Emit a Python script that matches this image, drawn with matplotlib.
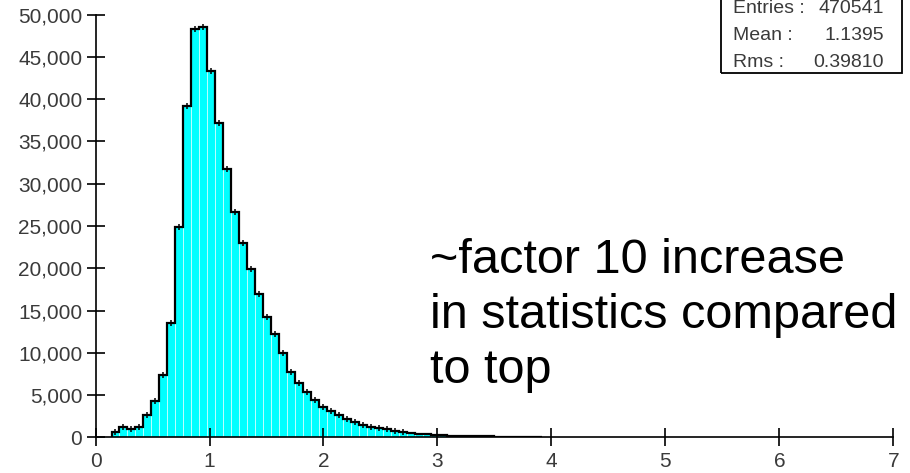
import matplotlib
matplotlib.use("Agg")
import matplotlib.pyplot as plt
import numpy as np
from matplotlib.patches import Rectangle
from matplotlib.ticker import FuncFormatter

# histogram: 0.07 wide bins, first filled bin starts at 0.14
first_edge = 0.14
bin_width = 0.07
counts = [680, 1200, 980, 1220, 2620, 4300, 7370, 13580,
          24920, 39200, 48310, 48580, 43340, 37150, 31710, 26690, 22950,
          19900, 16990, 14270, 12190, 10030, 7760, 6430, 5300,
          4370, 3620, 3130, 2580, 2130, 1850, 1510, 1220, 1100, 960,
          700, 590, 480, 390, 330, 280,
          230, 200, 170, 150, 130, 110, 100, 90, 80, 70, 60, 50, 40]

stat_labels = ["Entries :", "Mean :", "Rms :"]
stat_values = ["470541", "1.1395", "0.39810"]
note_lines = ["~factor 10 increase", "in statistics compared", "to top"]

plt.rcParams["font.family"] = ["Liberation Sans", "DejaVu Sans"]

counts = np.array(counts)
edges = first_edge + bin_width * np.arange(len(counts) + 1)
centers = 0.5 * (edges[:-1] + edges[1:])

fig = plt.figure(figsize=(9.10, 4.73), dpi=100)
ax = fig.add_axes([0.105, 0.0755, 0.8767, 0.8935])

ax.bar(edges[:-1], counts, width=bin_width, align="edge",
       color="#00ffff", edgecolor="#c8ffff", linewidth=0.6, zorder=1)
ax.stairs(counts, edges, color="black", linewidth=1.6, zorder=2)
big = counts >= 500
ax.plot(centers[big], counts[big], ls="none", marker="|", ms=5, mew=1.1,
        color="black", zorder=3)

ax.set_xlim(0, 7)
ax.set_ylim(0, 50000)
ax.set_xticks(range(8))
ax.set_yticks(range(0, 50001, 5000))
ax.yaxis.set_major_formatter(FuncFormatter(lambda v, p: f"{int(v):,}"))
for s in ("top", "right"):
    ax.spines[s].set_visible(False)
for s in ("left", "bottom"):
    ax.spines[s].set_linewidth(1.2)
ax.tick_params(direction="inout", length=13, width=1.2, labelsize=15,
               labelcolor="#3a3a3a")
ax.tick_params(axis="y", pad=3)
ax.tick_params(axis="x", pad=4)
ax.patch.set_visible(False)

# stats box, top right (top edge runs off the figure, as in the original)
fig.patches.append(Rectangle((0.7923, 0.8457), 0.1989, 0.17,
                             transform=fig.transFigure, fill=False,
                             edgecolor="black", linewidth=1.3))
for i, (lab, val) in enumerate(zip(stat_labels, stat_values)):
    y = 0.981 - i * 0.0564
    fig.text(0.8055, y, lab, fontsize=14, color="#3a3a3a", va="center")
    fig.text(0.9715, y, val, fontsize=14, color="#3a3a3a", va="center",
             ha="right")

for i, line in enumerate(note_lines):
    fig.text(0.4725, 1 - (273 + 55 * i) / 473, line, fontsize=35,
             color="black", va="baseline")

fig.savefig("out.png", dpi=100)
